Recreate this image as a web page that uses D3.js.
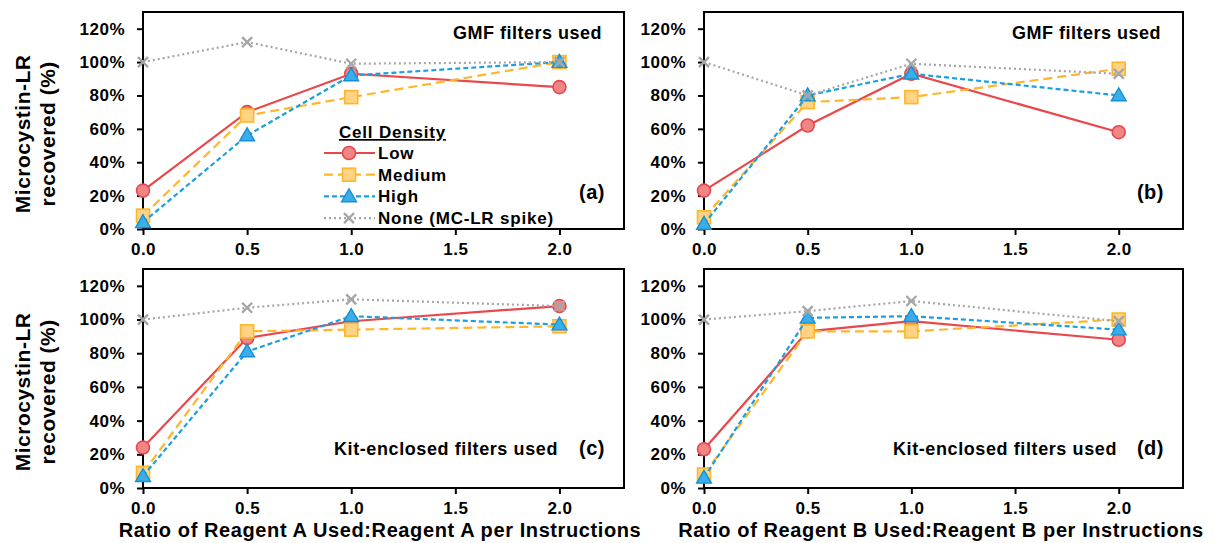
<!DOCTYPE html>
<html>
<head>
<meta charset="utf-8">
<script src="https://cdn.jsdelivr.net/npm/d3@7"></script>
<style>
body { margin: 0; background: #fff; }
svg text { font-family: "Liberation Sans", Arial, sans-serif; font-weight: bold; fill: #000; }
</style>
</head>
<body>
<svg id="chart" width="1214" height="543"></svg>
<script>
// ratio of reagent used : reagent per instructions
var xValues = [0, 0.5, 1.0, 2.0];
var xTicks = [0, 0.5, 1.0, 1.5, 2.0];
var yTicks = [0, 0.2, 0.4, 0.6, 0.8, 1.0, 1.2];
var seriesNames = ["Low", "Medium", "High", "None (MC-LR spike)"];
var panelLabels = ["(a)", "(b)", "(c)", "(d)"];
var panelNotes = ["GMF filters used", "GMF filters used", "Kit-enclosed filters used", "Kit-enclosed filters used"];
var xTitles = ["Ratio of Reagent A Used:Reagent A per Instructions", "Ratio of Reagent B Used:Reagent B per Instructions"];
var yTitle = ["Microcystin-LR", "recovered (%)"];

// (a) GMF filters, reagent A
var lowA = [0.23, 0.70, 0.93, 0.85];
var mediumA = [0.08, 0.68, 0.79, 1.00];
var highA = [0.04, 0.56, 0.92, 1.00];
var noneA = [1.00, 1.12, 0.99, 1.00];

// (b) GMF filters, reagent B
var lowB = [0.23, 0.62, 0.93, 0.58];
var mediumB = [0.07, 0.76, 0.79, 0.96];
var highB = [0.03, 0.80, 0.93, 0.80];
var noneB = [1.00, 0.80, 0.99, 0.93];

// (c) kit-enclosed filters, reagent A
var lowC = [0.24, 0.89, 0.99, 1.08];
var mediumC = [0.09, 0.93, 0.94, 0.96];
var highC = [0.07, 0.81, 1.02, 0.97];
var noneC = [1.00, 1.07, 1.12, 1.08];

// (d) kit-enclosed filters, reagent B
var lowD = [0.23, 0.93, 0.99, 0.88];
var mediumD = [0.08, 0.93, 0.93, 1.00];
var highD = [0.06, 1.01, 1.02, 0.94];
var noneD = [1.00, 1.05, 1.11, 0.99];

var styles = [
	{ line: "#E8484C", fill: "#EF8585", dash: null, shape: "circle" },
	{ line: "#FFB62C", fill: "#FFD382", dash: "9,5", shape: "square" },
	{ line: "#1C9FE0", fill: "#3AAEEA", dash: "5,3", shape: "triangle" },
	{ line: "#A6A6A6", fill: "none", dash: "2,3", shape: "cross" }
];

var svg = d3.select("#chart");

var panels = [
	{ left: 143, top: 12, width: 481, height: 217, data: [lowA, mediumA, highA, noneA], yTitle: true, legend: true, row: 0 },
	{ left: 704, top: 12, width: 479, height: 217, data: [lowB, mediumB, highB, noneB], yTitle: false, legend: false, row: 0 },
	{ left: 143, top: 269, width: 481, height: 219, data: [lowC, mediumC, highC, noneC], yTitle: true, legend: false, row: 1 },
	{ left: 704, top: 269, width: 479, height: 219, data: [lowD, mediumD, highD, noneD], yTitle: false, legend: false, row: 1 }
];

panels.forEach(function(p, i) {
	drawPanel(p, i);
});

xTitles.forEach(function(t, i) {
	var p = panels[2 + i];
	svg.append("text")
		.attr("x", p.left + 237)
		.attr("y", 537)
		.attr("text-anchor", "middle")
		.style("font-size", "20px")
		.style("letter-spacing", "0.6px")
		.text(t);
});

function drawMarker(g, shape, st, cx, cy) {
	if (shape === "circle") {
		g.append("circle").attr("cx", cx).attr("cy", cy).attr("r", 6.5)
			.attr("fill", st.fill).attr("stroke", st.line).attr("stroke-width", 1.6);
	} else if (shape === "square") {
		g.append("rect").attr("x", cx - 6.5).attr("y", cy - 6.5).attr("width", 13).attr("height", 13)
			.attr("fill", st.fill).attr("stroke", st.line).attr("stroke-width", 1.6);
	} else if (shape === "triangle") {
		g.append("path").attr("d", d3.symbol(d3.symbolTriangle, 95)())
			.attr("transform", "translate(" + cx + "," + (cy + 1) + ")")
			.attr("fill", st.fill).attr("stroke", "#1590D2").attr("stroke-width", 1.4);
	} else {
		g.append("path").attr("d", "M-5,-5L5,5M-5,5L5,-5")
			.attr("transform", "translate(" + cx + "," + cy + ")")
			.attr("stroke", st.line).attr("stroke-width", 2.4).attr("fill", "none");
	}
}

function drawPanel(p, idx) {
	var g = svg.append("g").attr("transform", "translate(" + p.left + "," + p.top + ")");

	var x = d3.scaleLinear().domain([0, 2.31]).range([0, p.width]);
	var y = d3.scaleLinear().domain([0, 1.3]).range([p.height, 0]);

	var yAxis = d3.axisLeft(y)
		.tickValues(yTicks)
		.tickFormat(d3.format(".0%"))
		.tickSize(6)
		.tickSizeOuter(0)
		.tickPadding(12);
	var xAxis = d3.axisBottom(x)
		.tickValues(xTicks)
		.tickFormat(d3.format(".1f"))
		.tickSize(6)
		.tickSizeOuter(0)
		.tickPadding(8);

	var ya = g.append("g").call(yAxis);
	var xa = g.append("g").attr("transform", "translate(0," + p.height + ")").call(xAxis);
	[ya, xa].forEach(function(a) {
		a.select(".domain").remove();
		a.selectAll(".tick line").attr("stroke", "#000").attr("stroke-width", 2);
		a.selectAll(".tick text")
			.attr("fill", "#000")
			.style("font-size", "17px")
			.style("font-family", "'Liberation Sans', Arial, sans-serif")
			.style("font-weight", "bold")
			.style("letter-spacing", "0.5px");
	});

	g.append("rect")
		.attr("width", p.width).attr("height", p.height)
		.attr("fill", "none").attr("stroke", "#000").attr("stroke-width", 2);

	var line = d3.line()
		.x(function(d, i) { return x(xValues[i]); })
		.y(function(d) { return y(d); });

	p.data.forEach(function(vals, s) {
		var st = styles[s];
		g.append("path")
			.attr("d", line(vals))
			.attr("fill", "none")
			.attr("stroke", st.line)
			.attr("stroke-width", 2.2)
			.attr("stroke-dasharray", st.dash);
		vals.forEach(function(v, i) {
			drawMarker(g, st.shape, st, x(xValues[i]), y(v));
		});
	});

	// note and panel letter
	if (p.row === 0) {
		g.append("text")
			.attr("x", p.width - 22).attr("y", 27)
			.attr("text-anchor", "end")
			.style("font-size", "18px").style("letter-spacing", "0.5px")
			.text(panelNotes[idx]);
		g.append("text")
			.attr("x", p.width - 19).attr("y", 187)
			.attr("text-anchor", "end")
			.style("font-size", "20px").style("letter-spacing", "0.5px")
			.text(panelLabels[idx]);
	} else {
		g.append("text")
			.attr("x", p.width - 66).attr("y", 186)
			.attr("text-anchor", "end")
			.style("font-size", "18px").style("letter-spacing", "0.6px")
			.text(panelNotes[idx]);
		g.append("text")
			.attr("x", p.width - 19).attr("y", 186)
			.attr("text-anchor", "end")
			.style("font-size", "20px").style("letter-spacing", "0.5px")
			.text(panelLabels[idx]);
	}

	if (p.yTitle) {
		var cy = p.top + y(0.6);
		yTitle.forEach(function(t, k) {
			svg.append("text")
				.attr("transform", "translate(" + (30 + k * 25) + "," + (cy + 5) + ") rotate(-90)")
				.attr("text-anchor", "middle")
				.style("font-size", "21px").style("letter-spacing", "0.5px")
				.text(t);
		});
	}

	if (p.legend) {
		var lg = g.append("g").attr("transform", "translate(181,0)");
		lg.append("text")
			.attr("x", 15).attr("y", 126)
			.style("font-size", "17px").style("letter-spacing", "0.8px")
			.style("text-decoration", "underline")
			.text("Cell Density");
		seriesNames.forEach(function(name, s) {
			var st = styles[s];
			var ry = 141 + s * 21.7;
			lg.append("line")
				.attr("x1", 0).attr("x2", 51).attr("y1", ry).attr("y2", ry)
				.attr("stroke", st.line).attr("stroke-width", 2.2)
				.attr("stroke-dasharray", st.dash);
			drawMarker(lg, st.shape, st, 25, ry);
			lg.append("text")
				.attr("x", 54).attr("y", ry + 6)
				.style("font-size", "17px").style("letter-spacing", "0.8px")
				.text(name);
		});
	}
}
</script>
</body>
</html>
